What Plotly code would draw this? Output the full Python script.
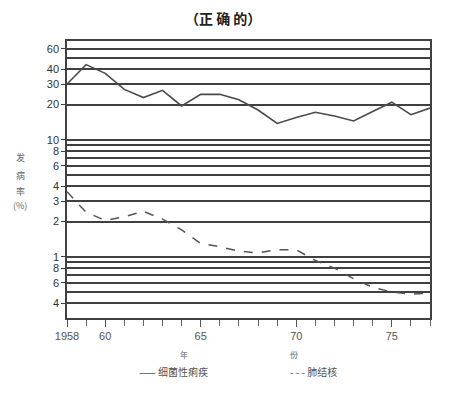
import plotly.graph_objects as go

years = list(range(1958, 1978))
dysentery = [30, 44, 37, 27, 23, 26.5, 19.5, 24.5, 24.5, 22, 18, 13.8, 15.5, 17.2, 16, 14.5, 17.5, 21, 16.4, 18.7]
other = [3.6, 2.4, 2.05, 2.2, 2.45, 2.1, 1.7, 1.3, 1.22, 1.12, 1.08, 1.15, 1.15, 0.93, 0.8, 0.65, 0.55, 0.5, 0.48, 0.49]

y_tickvals = [0.4, 0.6, 0.8, 1, 2, 3, 4, 6, 8, 10, 20, 30, 40, 60]
y_ticktext = ["4", "6", "8", "1", "2", "3", "4", "6", "8", "10", "20", "30", "40", "60"]
y_minor = [0.5, 0.7, 0.9, 5, 7, 9, 50, 70]
x_tickvals = [1958, 1960, 1965, 1970, 1975]
x_ticktext = ["1958", "60", "65", "70", "75"]

title = "（正 确 的）"
series_names = ["细菌性痢疾", "肺结核"]
y_title_chars = ["发", "病", "率", "(%)"]

ink = "#404040"
cjk = "Noto Sans CJK SC"

fig = go.Figure()
fig.add_trace(go.Scatter(x=years, y=dysentery, mode="lines", name=series_names[0],
                         line=dict(color="#4a4a4a", width=1.6)))
fig.add_trace(go.Scatter(x=years, y=other, mode="lines", name=series_names[1],
                         line=dict(color="#555555", width=1.5, dash="dash")))

# the page body has an 8px default margin, so the figure is shrunk to fit the window
fig.update_layout(
    width=446, height=387,
    margin=dict(l=59, r=24, t=33, b=77),
    paper_bgcolor="white", plot_bgcolor="white",
    showlegend=False,
    font=dict(family="Liberation Sans", color="#444", size=11),
)
fig.update_xaxes(
    range=[1958, 1977], tickmode="array", tickvals=x_tickvals, ticktext=x_ticktext,
    showgrid=False, zeroline=False, showline=True, linecolor=ink, linewidth=2,
    mirror=True, ticks="outside", ticklen=7, tickcolor="#555", tickwidth=1,
    minor=dict(dtick=1, ticks="outside", ticklen=6, tickcolor="#666", tickwidth=1, showgrid=False),
    tickfont=dict(size=11, color="#555"),
)
fig.update_yaxes(
    type="log", range=[-0.5229, 1.8451], tickmode="array", tickvals=y_tickvals, ticktext=y_ticktext,
    showgrid=True, gridcolor=ink, gridwidth=2, zeroline=False,
    showline=True, linecolor=ink, linewidth=1.5, mirror=True,
    ticks="outside", ticklen=4, tickcolor=ink,
    minor=dict(tickvals=y_minor, showgrid=True, gridcolor=ink, gridwidth=2, ticks=""),
    tickfont=dict(size=11, color="#333"),
)

fig.add_annotation(text="<b>" + title + "</b>", x=0.43, xref="paper", y=1.0, yref="paper",
                   yanchor="middle", yshift=23, showarrow=False,
                   font=dict(family=cjk, size=14, color="#222"))

for ch, yp in zip(y_title_chars, [0.581, 0.513, 0.455, 0.405]):
    fig.add_annotation(text=ch, x=-0.129, xref="paper", y=yp, yref="paper",
                       xanchor="center", yanchor="middle", showarrow=False,
                       font=dict(family=cjk, size=9, color="#666"))

fig.add_annotation(text="年", x=1964.1, xref="x", y=0, yref="paper", yshift=-44,
                   showarrow=False, font=dict(family=cjk, size=8, color="#666"))
fig.add_annotation(text="份", x=1969.9, xref="x", y=0, yref="paper", yshift=-44,
                   showarrow=False, font=dict(family=cjk, size=8, color="#666"))
fig.add_annotation(text="—— " + series_names[0], x=1963.6, xref="x", y=0, yref="paper", yshift=-63,
                   showarrow=False, font=dict(family=cjk, size=10, color="#555"))
fig.add_annotation(text="- - - " + series_names[1], x=1970.9, xref="x", y=0, yref="paper", yshift=-63,
                   showarrow=False, font=dict(family=cjk, size=10, color="#555"))

fig.write_html("out.html")
